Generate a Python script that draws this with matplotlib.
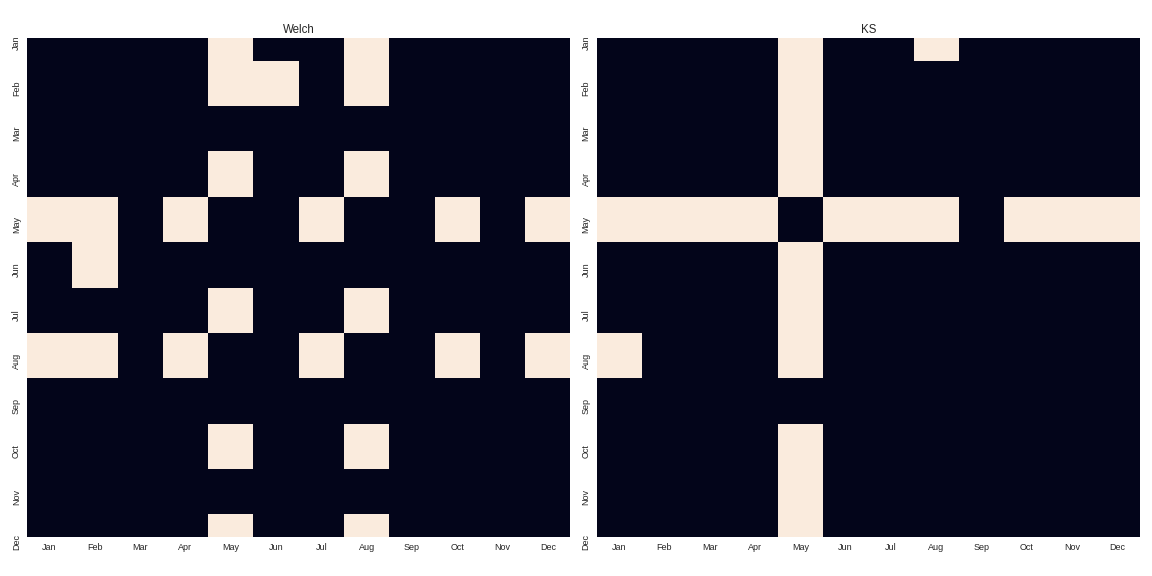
"""Welch vs KS: binary month-by-month test matrices."""

import matplotlib

matplotlib.use("Agg")

import matplotlib.pyplot as plt
import matplotlib.transforms as mtransforms
import numpy as np
from matplotlib.colors import ListedColormap

C_DARK = "#03051a"
C_LIGHT = "#faebdd"
C_TEXT = "#262626"

MONTHS = ["Jan", "Feb", "Mar", "Apr", "May", "Jun",
          "Jul", "Aug", "Sep", "Oct", "Nov", "Dec"]

# rows / columns follow MONTHS; 1 = light cell
WELCH = [
    [0, 0, 0, 0, 1, 0, 0, 1, 0, 0, 0, 0],
    [0, 0, 0, 0, 1, 1, 0, 1, 0, 0, 0, 0],
    [0, 0, 0, 0, 0, 0, 0, 0, 0, 0, 0, 0],
    [0, 0, 0, 0, 1, 0, 0, 1, 0, 0, 0, 0],
    [1, 1, 0, 1, 0, 0, 1, 0, 0, 1, 0, 1],
    [0, 1, 0, 0, 0, 0, 0, 0, 0, 0, 0, 0],
    [0, 0, 0, 0, 1, 0, 0, 1, 0, 0, 0, 0],
    [1, 1, 0, 1, 0, 0, 1, 0, 0, 1, 0, 1],
    [0, 0, 0, 0, 0, 0, 0, 0, 0, 0, 0, 0],
    [0, 0, 0, 0, 1, 0, 0, 1, 0, 0, 0, 0],
    [0, 0, 0, 0, 0, 0, 0, 0, 0, 0, 0, 0],
    [0, 0, 0, 0, 1, 0, 0, 1, 0, 0, 0, 0],
]

KS = [
    [0, 0, 0, 0, 1, 0, 0, 1, 0, 0, 0, 0],
    [0, 0, 0, 0, 1, 0, 0, 0, 0, 0, 0, 0],
    [0, 0, 0, 0, 1, 0, 0, 0, 0, 0, 0, 0],
    [0, 0, 0, 0, 1, 0, 0, 0, 0, 0, 0, 0],
    [1, 1, 1, 1, 0, 1, 1, 1, 0, 1, 1, 1],
    [0, 0, 0, 0, 1, 0, 0, 0, 0, 0, 0, 0],
    [0, 0, 0, 0, 1, 0, 0, 0, 0, 0, 0, 0],
    [1, 0, 0, 0, 1, 0, 0, 0, 0, 0, 0, 0],
    [0, 0, 0, 0, 0, 0, 0, 0, 0, 0, 0, 0],
    [0, 0, 0, 0, 1, 0, 0, 0, 0, 0, 0, 0],
    [0, 0, 0, 0, 1, 0, 0, 0, 0, 0, 0, 0],
    [0, 0, 0, 0, 1, 0, 0, 0, 0, 0, 0, 0],
]

plt.rcParams.update({
    "font.family": ["Liberation Sans", "DejaVu Sans"],
    "text.color": C_TEXT,
    "xtick.color": C_TEXT,
    "ytick.color": C_TEXT,
})


def draw_panel(ax, data, title):
    arr = np.array(data)
    n = arr.shape[0]
    ax.pcolormesh(arr, cmap=ListedColormap([C_DARK, C_LIGHT]), vmin=0, vmax=1)
    ax.set_xlim(0, n)
    # top and bottom rows are half clipped, like the original render
    ax.set_ylim(n - 0.5, 0.5)
    ax.set_xticks(np.arange(n) + 0.5)
    ax.set_xticklabels(MONTHS, fontsize=9)
    ax.set_yticks(np.arange(n) + 0.5)
    ax.set_yticklabels(MONTHS, fontsize=9, rotation=90, va="center")
    ax.tick_params(length=0, pad=6)
    # y labels sit a few pixels below their ticks in the original
    shift = mtransforms.ScaledTranslation(0, -5 / 72, ax.figure.dpi_scale_trans)
    for lbl in ax.get_yticklabels():
        lbl.set_transform(lbl.get_transform() + shift)
    for spine in ax.spines.values():
        spine.set_visible(False)
    ax.set_title(title, fontsize=11.5, pad=5)


fig, axes = plt.subplots(1, 2, figsize=(16, 8), dpi=72)
fig.subplots_adjust(left=0.0234, right=0.9896, bottom=0.0677, top=0.934, wspace=0.048)
draw_panel(axes[0], WELCH, "Welch")
draw_panel(axes[1], KS, "KS")
fig.savefig("out.png", dpi=72, facecolor="white")
